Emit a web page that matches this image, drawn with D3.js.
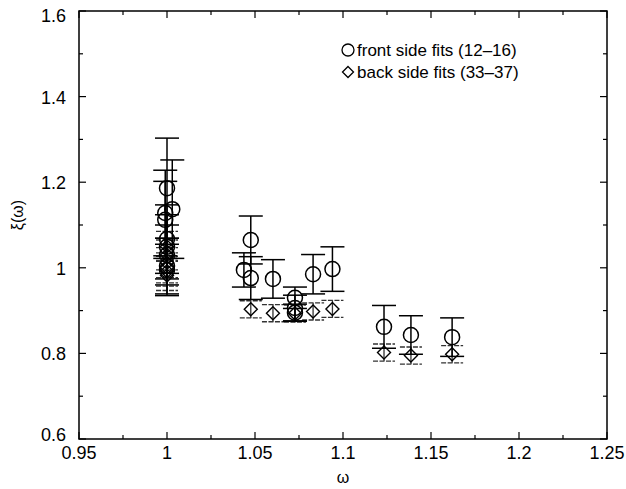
<!DOCTYPE html>
<html>
<head>
<meta charset="utf-8">
<script src="https://cdn.jsdelivr.net/npm/d3@7"></script>
<style>
  body { margin: 0; background: #fff; }
  svg { font-family: "Liberation Sans", Arial, sans-serif; }
</style>
</head>
<body>
<div id="chart"></div>
<script>
// front side fits (12-16): omega, xi, error
const frontW   = [1.000, 1.003, 0.999, 0.999, 1.000, 1.000, 1.000, 1.000, 1.000,
                  1.0437, 1.0476, 1.0476, 1.0602, 1.0727, 1.0727, 1.0727, 1.083, 1.094,
                  1.1233, 1.1386, 1.162];
const frontXi  = [1.186, 1.137, 1.128, 1.112, 1.067, 1.049, 1.030, 1.004, 0.995,
                  0.995, 1.065, 0.976, 0.974, 0.930, 0.906, 0.895, 0.985, 0.997,
                  0.862, 0.843, 0.838];
const frontErr = [0.117, 0.115, 0.10, 0.09, 0.08, 0.075, 0.07, 0.065, 0.06,
                  0.04, 0.056, 0.05, 0.045, 0.025, 0.03, 0.02, 0.046, 0.052,
                  0.05, 0.045, 0.045];

// back side fits (33-37)
const backW   = [1.000, 1.000, 1.000, 1.000, 1.000, 1.000,
                 1.0476, 1.0602, 1.0727, 1.083, 1.094, 1.1233, 1.1386, 1.162];
const backXi  = [1.050, 1.030, 1.012, 1.000, 0.992, 0.982,
                 0.903, 0.894, 0.893, 0.898, 0.904, 0.802, 0.795, 0.798];
const backErr = [0.035, 0.035, 0.035, 0.035, 0.035, 0.035,
                 0.02, 0.02, 0.02, 0.02, 0.02, 0.02, 0.02, 0.02];

const xTicks = [0.95, 1, 1.05, 1.1, 1.15, 1.2, 1.25];
const yTicks = [0.6, 0.8, 1, 1.2, 1.4, 1.6];
const xMinor = [0.975, 1.025, 1.075, 1.125, 1.175, 1.225];
const yMinor = [0.7, 0.9, 1.1, 1.3, 1.5];

const width = 626, height = 489;
const margin = { left: 79, right: 19, top: 11, bottom: 50 };

const svg = d3.select("#chart").append("svg")
  .attr("width", width).attr("height", height);

const x = d3.scaleLinear().domain([0.95, 1.25]).range([margin.left, width - margin.right]);
const y = d3.scaleLinear().domain([0.6, 1.6]).range([height - margin.bottom, margin.top]);

// frame
svg.append("rect")
  .attr("x", x(0.95)).attr("y", y(1.6))
  .attr("width", x(1.25) - x(0.95)).attr("height", y(0.6) - y(1.6))
  .attr("fill", "none").attr("stroke", "#000").attr("stroke-width", 1.5);

// inward ticks on all sides
const ticks = svg.append("g").attr("stroke", "#000").attr("stroke-width", 1.2);
function xt(vals, len) {
  vals.forEach(v => {
    ticks.append("line").attr("x1", x(v)).attr("x2", x(v)).attr("y1", y(0.6)).attr("y2", y(0.6) - len);
    ticks.append("line").attr("x1", x(v)).attr("x2", x(v)).attr("y1", y(1.6)).attr("y2", y(1.6) + len);
  });
}
function yt(vals, len) {
  vals.forEach(v => {
    ticks.append("line").attr("y1", y(v)).attr("y2", y(v)).attr("x1", x(0.95)).attr("x2", x(0.95) + len);
    ticks.append("line").attr("y1", y(v)).attr("y2", y(v)).attr("x1", x(1.25)).attr("x2", x(1.25) - len);
  });
}
xt(xTicks, 7); xt(xMinor, 4);
yt(yTicks, 7); yt(yMinor, 4);

svg.append("g").selectAll("text").data(xTicks).join("text")
  .attr("x", d => x(d)).attr("y", y(0.6) + 20)
  .attr("text-anchor", "middle").attr("font-size", 18)
  .text(d => d3.format("")(d));

svg.append("g").selectAll("text").data(yTicks).join("text")
  .attr("x", x(0.95) - 13)
  .attr("y", d => y(d) + (d === 1.6 ? 11 : d === 0.6 ? 2 : 7))
  .attr("text-anchor", "end").attr("font-size", 18)
  .text(d => d3.format("")(d));

svg.append("text").attr("x", x(1.1)).attr("y", 483)
  .attr("text-anchor", "middle").attr("font-size", 16).text("ω");
svg.append("text")
  .attr("transform", `translate(23,215) rotate(-90)`)
  .attr("text-anchor", "middle").attr("font-size", 16).text("ξ(ω)");

const front = frontW.map((w, i) => ({ w, v: frontXi[i], e: frontErr[i] }));
const back = backW.map((w, i) => ({ w, v: backXi[i], e: backErr[i] }));

// back side error bars (lighter, dashed look)
const gb = svg.append("g").attr("stroke", "#333").attr("stroke-width", 1.3);
back.forEach(d => {
  gb.append("line").attr("x1", x(d.w)).attr("x2", x(d.w)).attr("y1", y(d.v - d.e)).attr("y2", y(d.v + d.e));
  [d.v - d.e, d.v + d.e].forEach(c => gb.append("line")
    .attr("x1", x(d.w) - 11).attr("x2", x(d.w) + 11).attr("y1", y(c)).attr("y2", y(c))
    .attr("stroke-dasharray", "5,1.5"));
});

// front side error bars
const gf = svg.append("g").attr("stroke", "#000").attr("stroke-width", 1.5);
front.forEach(d => {
  gf.append("line").attr("x1", x(d.w)).attr("x2", x(d.w)).attr("y1", y(d.v - d.e)).attr("y2", y(d.v + d.e));
  [d.v - d.e, d.v + d.e].forEach(c => gf.append("line")
    .attr("x1", x(d.w) - 12).attr("x2", x(d.w) + 12).attr("y1", y(c)).attr("y2", y(c)));
});

const diamond = s => `M0,${-s}L${s},0L0,${s}L${-s},0Z`;
svg.append("g").selectAll("path").data(back).join("path")
  .attr("transform", d => `translate(${x(d.w)},${y(d.v)})`)
  .attr("d", diamond(6.5))
  .attr("fill", "none").attr("stroke", "#000").attr("stroke-width", 1.4);

svg.append("g").selectAll("circle").data(front).join("circle")
  .attr("cx", d => x(d.w)).attr("cy", d => y(d.v)).attr("r", 7.5)
  .attr("fill", "none").attr("stroke", "#000").attr("stroke-width", 1.5);

// legend
const lg = svg.append("g").attr("font-size", 17);
lg.append("circle").attr("cx", 348).attr("cy", 50).attr("r", 6)
  .attr("fill", "none").attr("stroke", "#000").attr("stroke-width", 1.3);
lg.append("text").attr("x", 357).attr("y", 56).text("front side fits (12–16)");
lg.append("path").attr("transform", "translate(348,72)").attr("d", diamond(5.5))
  .attr("fill", "none").attr("stroke", "#000").attr("stroke-width", 1.3);
lg.append("text").attr("x", 357).attr("y", 78).text("back side fits (33–37)");
</script>
</body>
</html>
